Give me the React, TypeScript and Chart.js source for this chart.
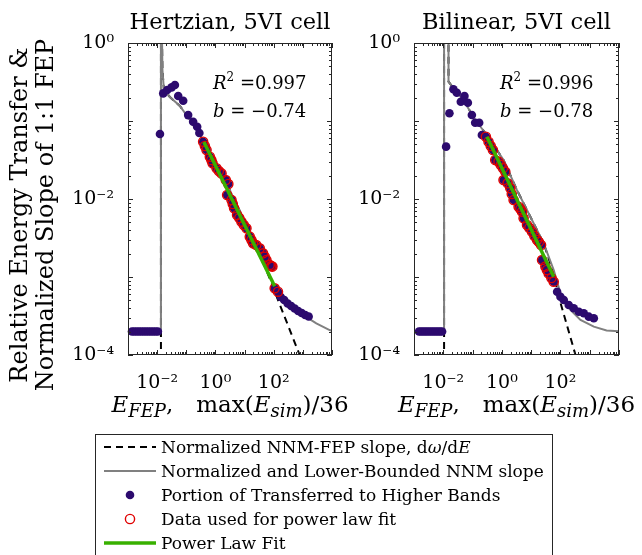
import React, { useEffect, useRef } from 'react';
import { Chart, registerables } from 'chart.js';
Chart.register(...registerables);

const FONT = '"DejaVu Serif", "Liberation Serif", serif';
const PURPLE = '#2c0a6e';
const RED = '#e00000';
const GREEN = '#38b000';
const GRAY = '#808080';

// ---------- axis ticks ----------
const xTickValues = [1e-2, 1, 1e2];
const xTickLabels = ['10⁻²', '10⁰', '10²'];
const yTickValues = [1e-4, 1e-2, 1];
const yTickLabels = ['10⁻⁴', '10⁻²', '10⁰'];
const xMin = 1e-3;
const xMax = 1e4;
const yMin = 1e-4;
const yMax = 1;

// ---------- Hertzian, 5VI cell ----------
const hzPreX = [1.37e-3, 1.65e-3, 1.99e-3, 2.40e-3, 2.89e-3, 3.48e-3, 4.19e-3, 5.05e-3, 6.08e-3, 7.33e-3, 8.83e-3, 1.06e-2,
  0.0125, 0.0162, 0.0222, 0.0314, 0.0407, 0.0528, 0.0783, 0.116, 0.172, 0.236, 0.281];
const hzPreY = [2e-4, 2e-4, 2e-4, 2e-4, 2e-4, 2e-4, 2e-4, 2e-4, 2e-4, 2e-4, 2e-4, 2e-4,
  0.0681, 0.226, 0.250, 0.270, 0.290, 0.209, 0.182, 0.119, 0.098, 0.0845, 0.0702];
const hzFitX = [0.379, 0.434, 0.495, 0.643, 0.724, 0.796, 1.09, 1.31, 1.62, 2.27, 2.77, 2.52, 3.56, 3.94, 4.37, 5.53, 6.58,
  7.83, 9.40, 11.6, 15.1, 17.2, 19.5, 25.2, 33.2, 43.0, 49.2, 56.2, 72.9, 82.0, 90.2, 108, 140];
const hzFitY = [0.0543, 0.0478, 0.0425, 0.0348, 0.0316, 0.0287, 0.0248, 0.0229, 0.0213, 0.0175, 0.0156, 0.01125, 0.0097,
  0.00863, 0.0076, 0.00624, 0.0057, 0.00512, 0.00464, 0.00421, 0.00329, 0.00298, 0.00270, 0.00257, 0.00233, 0.00201,
  0.00182, 0.00165, 0.00143, 0.00138, 0.00136, 0.000716, 0.000648];
const hzPostX = [174, 229, 301, 397, 524, 690, 910, 1200, 1580];
const hzPostY = [5.54e-4, 5.07e-4, 4.57e-4, 4.25e-4, 3.94e-4, 3.66e-4, 3.45e-4, 3.26e-4, 3.12e-4];
const hzLawX = [0.401, 108];
const hzLawY = [0.0538, 7.6e-4];
const hzGrayX = [1e-3, 0.0134, 0.0135, 0.0152, 0.0171, 0.0274, 0.0604, 0.133, 0.292, 0.643, 1.42, 3.11, 6.85, 15.1, 33.2,
  72.9, 160, 353, 1007, 2897, 8280, 1e4];
const hzGrayY = [2e-4, 2e-4, 10, 0.45, 0.249, 0.203, 0.156, 0.103, 0.0662, 0.0401, 0.0235, 0.0130, 0.00702, 0.00378,
  0.00197, 0.00103, 5.5e-4, 4.37e-4, 3.26e-4, 2.55e-4, 2.09e-4, 2.05e-4];
const hzDashX = [0.0135, 0.0135, 0.0152, 0.0171, 0.0274, 0.0604, 0.133, 0.292, 0.643, 1.42, 3.11, 6.85, 15.1, 33.2, 72.9,
  160, 776, 1000];
const hzDashY = [1e-5, 10, 0.45, 0.249, 0.203, 0.156, 0.103, 0.0662, 0.0401, 0.0235, 0.0130, 0.00702, 0.00378, 0.00197,
  9.6e-4, 4.47e-4, 1e-4, 7.9e-5];

// ---------- Bilinear, 5VI cell ----------
const blPreX = [1.48e-3, 1.75e-3, 2.06e-3, 2.43e-3, 2.86e-3, 3.38e-3, 3.99e-3, 4.70e-3, 5.55e-3, 6.55e-3, 7.71e-3, 9.10e-3,
  0.01247, 0.0162, 0.0222, 0.0290, 0.0397, 0.0528, 0.0690, 0.0946, 0.1227, 0.168, 0.208];
const blPreY = [2e-4, 2e-4, 2e-4, 2e-4, 2e-4, 2e-4, 2e-4, 2e-4, 2e-4, 2e-4, 2e-4, 2e-4,
  0.0469, 0.1256, 0.2547, 0.2307, 0.1767, 0.2094, 0.1717, 0.1194, 0.0951, 0.0951, 0.0662];
const blFitX = [0.285, 0.351, 0.417, 0.495, 0.594, 0.771, 0.916, 1.09, 1.31, 1.14, 1.57, 1.94, 2.18, 2.52, 3.73, 4.27, 4.88,
  5.53, 7.24, 8.67, 10.7, 12.9, 15.9, 18.4, 21.8, 23.6, 30.6, 34.5, 39.7, 49.2, 59.0];
const blFitY = [0.0629, 0.0543, 0.0478, 0.0425, 0.0316, 0.0301, 0.0273, 0.0248, 0.0224, 0.0175, 0.0159, 0.0137, 0.0116,
  0.0097, 0.00796, 0.00745, 0.00687, 0.00566, 0.00464, 0.00425, 0.00381, 0.00336, 0.00298, 0.00281, 0.00257, 0.00165,
  0.00136, 0.00123, 0.00111, 0.00097, 0.00087];
const blPostX = [77.1, 100, 130, 192, 285, 424, 628, 931, 1380];
const blPostY = [6.48e-4, 5.59e-4, 5.07e-4, 4.37e-4, 3.97e-4, 3.59e-4, 3.43e-4, 3.10e-4, 2.96e-4];
const blLawX = [0.309, 59.0];
const blLawY = [0.0629, 0.00101];
const blGrayX = [1e-3, 0.01063, 0.01064, 0.01496, 0.0151, 0.0222, 0.0488, 0.1227, 0.309, 1.14, 3.29, 9.40, 26.8, 59.0, 100,
  220, 484, 1380, 3760, 1e4];
const blGrayY = [2e-4, 2e-4, 10, 10, 0.319, 0.263, 0.186, 0.103, 0.0662, 0.0316, 0.0130, 0.00593, 0.00270, 0.00123,
  6.18e-4, 3.78e-4, 2.81e-4, 2.31e-4, 2.06e-4, 2.02e-4];
const blDashX = [0.01064, 0.01064, 0.01496, 0.0151, 0.0222, 0.0488, 0.1227, 0.309, 1.14, 3.29, 9.40, 26.8, 59.0, 100, 327, 400];
const blDashY = [1e-5, 10, 10, 0.319, 0.263, 0.186, 0.103, 0.0662, 0.0316, 0.0130, 0.00593, 0.00270, 1.1e-3, 4.7e-4,
  1e-4, 7.7e-5];

const legendLabels = [
  'Normalized NNM-FEP slope, ',
  'Normalized and Lower-Bounded NNM slope',
  'Portion of Transferred to Higher Bands',
  'Data used for power law fit',
  'Power Law Fit',
];

type Run = { t: string; i?: boolean; s?: number; dy?: number };

function pts(xs: number[], ys: number[]) {
  return xs.map((x, i) => ({ x, y: ys[i] }));
}

function drawRuns(ctx: CanvasRenderingContext2D, runs: Run[], x: number, y: number, align: 'left' | 'center', base = 22) {
  const fontFor = (r: Run) => `${r.i ? 'italic ' : ''}${r.s ?? base}px ${FONT}`;
  let w = 0;
  for (const r of runs) {
    ctx.font = fontFor(r);
    w += ctx.measureText(r.t).width;
  }
  let cx = align === 'center' ? x - w / 2 : x;
  ctx.textAlign = 'left';
  ctx.textBaseline = 'alphabetic';
  for (const r of runs) {
    ctx.font = fontFor(r);
    ctx.fillText(r.t, cx, y + (r.dy ?? 0));
    cx += ctx.measureText(r.t).width;
  }
}

const decorPlugin = {
  id: 'decor',
  afterDraw(chart: any, _args: any, opts: any) {
    const { ctx, chartArea: ca } = chart;
    const xs = chart.scales.x;
    const ys = chart.scales.y;
    ctx.save();
    ctx.strokeStyle = '#262626';
    ctx.lineWidth = 1;
    ctx.beginPath();
    for (let d = -5; d <= 5; d++) {
      for (let m = 1; m <= 9; m++) {
        const v = m * Math.pow(10, d);
        const L = m === 1 ? 5 : 3;
        if (v >= xs.min * 0.999 && v <= xs.max * 1.001) {
          const p = Math.round(xs.getPixelForValue(v)) + 0.5;
          ctx.moveTo(p, ca.bottom);
          ctx.lineTo(p, ca.bottom - L);
          ctx.moveTo(p, ca.top);
          ctx.lineTo(p, ca.top + L);
        }
        if (v >= ys.min * 0.999 && v <= ys.max * 1.001) {
          const p = Math.round(ys.getPixelForValue(v)) + 0.5;
          ctx.moveTo(ca.left, p);
          ctx.lineTo(ca.left + L, p);
          ctx.moveTo(ca.right, p);
          ctx.lineTo(ca.right - L, p);
        }
      }
    }
    ctx.stroke();
    ctx.strokeRect(Math.round(ca.left) + 0.5, Math.round(ca.top) + 0.5,
      Math.round(ca.right - ca.left) - 1, Math.round(ca.bottom - ca.top) - 1);

    ctx.fillStyle = '#000';
    const cxm = (ca.left + ca.right) / 2;
    // title
    ctx.font = `22.5px ${FONT}`;
    ctx.textAlign = 'center';
    ctx.textBaseline = 'alphabetic';
    ctx.fillText(opts.title, cxm, 29);
    // annotations
    drawRuns(ctx, [{ t: 'R', i: true }, { t: '2', s: 12, dy: -8 }, { t: ' =' + opts.r2 }], opts.annX, 89, 'left', 18);
    drawRuns(ctx, [{ t: 'b', i: true }, { t: ' = −' + opts.b }], opts.annX, 117, 'left', 18);
    // x label
    drawRuns(ctx, [
      { t: 'E', i: true }, { t: 'FEP', i: true, s: 18, dy: 5 }, { t: ',\u2003max(' },
      { t: 'E', i: true }, { t: 'sim', i: true, s: 18, dy: 5 }, { t: ')/36' },
    ], cxm, 412, 'center', 23);
    // y label
    if (opts.ylabel) {
      ctx.font = `24px ${FONT}`;
      ctx.textAlign = 'center';
      ctx.textBaseline = 'alphabetic';
      const yc = 215;
      ctx.save();
      ctx.translate(27, yc);
      ctx.rotate(-Math.PI / 2);
      ctx.fillText(opts.ylabel[0], 0, 0);
      ctx.restore();
      ctx.save();
      ctx.translate(53, yc);
      ctx.rotate(-Math.PI / 2);
      ctx.fillText(opts.ylabel[1], 0, 0);
      ctx.restore();
    }
    ctx.restore();
  },
};

type Panel = {
  preX: number[]; preY: number[]; fitX: number[]; fitY: number[]; postX: number[]; postY: number[];
  lawX: number[]; lawY: number[]; grayX: number[]; grayY: number[]; dashX: number[]; dashY: number[];
  padLeft: number; yWidth: number; padRight: number; title: string; r2: string; b: string; annX: number;
  ylabel?: string[];
};

function makeConfig(p: Panel): any {
  const dots = pts([...p.preX, ...p.fitX, ...p.postX], [...p.preY, ...p.fitY, ...p.postY]);
  return {
    type: 'line',
    data: {
      datasets: [
        { label: legendLabels[4], data: pts(p.lawX, p.lawY), borderColor: GREEN, borderWidth: 3.5, pointRadius: 0, order: 0 },
        {
          label: legendLabels[3], data: pts(p.fitX, p.fitY), showLine: false, pointRadius: 4.6, pointBorderWidth: 1.4,
          pointBorderColor: RED, pointBackgroundColor: 'rgba(0,0,0,0)', order: 1, clip: false,
        },
        {
          label: legendLabels[2], data: dots, showLine: false, pointRadius: 4.3, pointBorderWidth: 0,
          pointBackgroundColor: PURPLE, order: 2, clip: false,
        },
        { label: legendLabels[1], data: pts(p.grayX, p.grayY), borderColor: GRAY, borderWidth: 2, pointRadius: 0, order: 3 },
        {
          label: legendLabels[0], data: pts(p.dashX, p.dashY), borderColor: '#000', borderWidth: 2,
          borderDash: [7, 5], pointRadius: 0, order: 4,
        },
      ],
    },
    options: {
      responsive: false,
      animation: false,
      events: [],
      layout: { padding: { left: p.padLeft, right: p.padRight, top: 43, bottom: 0 } },
      plugins: {
        legend: { display: false },
        tooltip: { enabled: false },
        decor: { title: p.title, r2: p.r2, b: p.b, annX: p.annX, ylabel: p.ylabel },
      },
      scales: {
        x: {
          type: 'logarithmic', min: xMin, max: xMax,
          grid: { display: false }, border: { display: false },
          afterBuildTicks: (s: any) => { s.ticks = xTickValues.map((v) => ({ value: v })); },
          afterFit: (s: any) => { s.height = 75; },
          ticks: {
            autoSkip: false, maxRotation: 0, padding: 9, color: '#000',
            font: { family: FONT, size: 19 },
            callback: (v: number) => {
              const i = xTickValues.findIndex((t) => Math.abs(t - v) / t < 1e-6);
              return i >= 0 ? xTickLabels[i] : '';
            },
          },
        },
        y: {
          type: 'logarithmic', min: yMin, max: yMax,
          grid: { display: false }, border: { display: false },
          afterBuildTicks: (s: any) => { s.ticks = yTickValues.map((v) => ({ value: v })); },
          afterFit: (s: any) => { s.width = p.yWidth; },
          ticks: {
            autoSkip: false, padding: 6, color: '#000',
            font: { family: FONT, size: 19 },
            callback: (v: number) => {
              const i = yTickValues.findIndex((t) => Math.abs(t - v) / t < 1e-6);
              return i >= 0 ? yTickLabels[i] : '';
            },
          },
        },
      },
    },
    plugins: [decorPlugin],
  };
}

const hzPanel: Panel = {
  preX: hzPreX, preY: hzPreY, fitX: hzFitX, fitY: hzFitY, postX: hzPostX, postY: hzPostY,
  lawX: hzLawX, lawY: hzLawY, grayX: hzGrayX, grayY: hzGrayY, dashX: hzDashX, dashY: hzDashY,
  padLeft: 0, yWidth: 128, padRight: 310, title: 'Hertzian, 5VI cell', r2: '0.997', b: '0.74', annX: 213,
  ylabel: ['Relative Energy Transfer &', 'Normalized Slope of 1:1 FEP'],
};
const blPanel: Panel = {
  preX: blPreX, preY: blPreY, fitX: blFitX, fitY: blFitY, postX: blPostX, postY: blPostY,
  lawX: blLawX, lawY: blLawY, grayX: blGrayX, grayY: blGrayY, dashX: blDashX, dashY: blDashY,
  padLeft: 334, yWidth: 80, padRight: 23, title: 'Bilinear, 5VI cell', r2: '0.996', b: '0.78', annX: 500,
};

function Sample({ kind }: { kind: number }) {
  return (
    <svg width={52} height={24} style={{ position: 'absolute', left: 8, top: 0 }}>
      {kind === 0 && <line x1={0} y1={12} x2={52} y2={12} stroke="#000" strokeWidth={2} strokeDasharray="7 5" />}
      {kind === 1 && <line x1={0} y1={12} x2={52} y2={12} stroke={GRAY} strokeWidth={2} />}
      {kind === 2 && <circle cx={26} cy={12} r={4.3} fill={PURPLE} />}
      {kind === 3 && <circle cx={26} cy={12} r={4.6} fill="none" stroke={RED} strokeWidth={1.4} />}
      {kind === 4 && <line x1={0} y1={12} x2={52} y2={12} stroke={GREEN} strokeWidth={3.5} />}
    </svg>
  );
}

export default function App() {
  const leftRef = useRef<HTMLCanvasElement>(null);
  const rightRef = useRef<HTMLCanvasElement>(null);
  useEffect(() => {
    const c1 = new Chart(leftRef.current as HTMLCanvasElement, makeConfig(hzPanel));
    const c2 = new Chart(rightRef.current as HTMLCanvasElement, makeConfig(blPanel));
    return () => { c1.destroy(); c2.destroy(); };
  }, []);
  const canvasStyle: React.CSSProperties = { position: 'absolute', left: 0, top: 0, width: 642, height: 430 };
  return (
    <div style={{ position: 'fixed', left: 0, top: 0, width: 642, height: 555, overflow: 'hidden', background: '#fff' }}>
      <canvas ref={leftRef} width={642} height={430} style={canvasStyle} />
      <canvas ref={rightRef} width={642} height={430} style={canvasStyle} />
      <div style={{
        position: 'absolute', left: 95, top: 434, width: 458, height: 140, border: '1px solid #262626',
        boxSizing: 'border-box', background: '#fff', fontFamily: FONT, fontSize: 17, color: '#000',
      }}>
        {legendLabels.map((lab, k) => (
          <div key={k} style={{ position: 'absolute', left: 0, top: k * 24, height: 24, width: '100%' }}>
            <Sample kind={k} />
            <span style={{ position: 'absolute', left: 65, top: 0, lineHeight: '24px', whiteSpace: 'nowrap' }}>
              {lab}
              {k === 0 && (<>d<i>ω</i>/d<i>E</i></>)}
            </span>
          </div>
        ))}
      </div>
    </div>
  );
}
